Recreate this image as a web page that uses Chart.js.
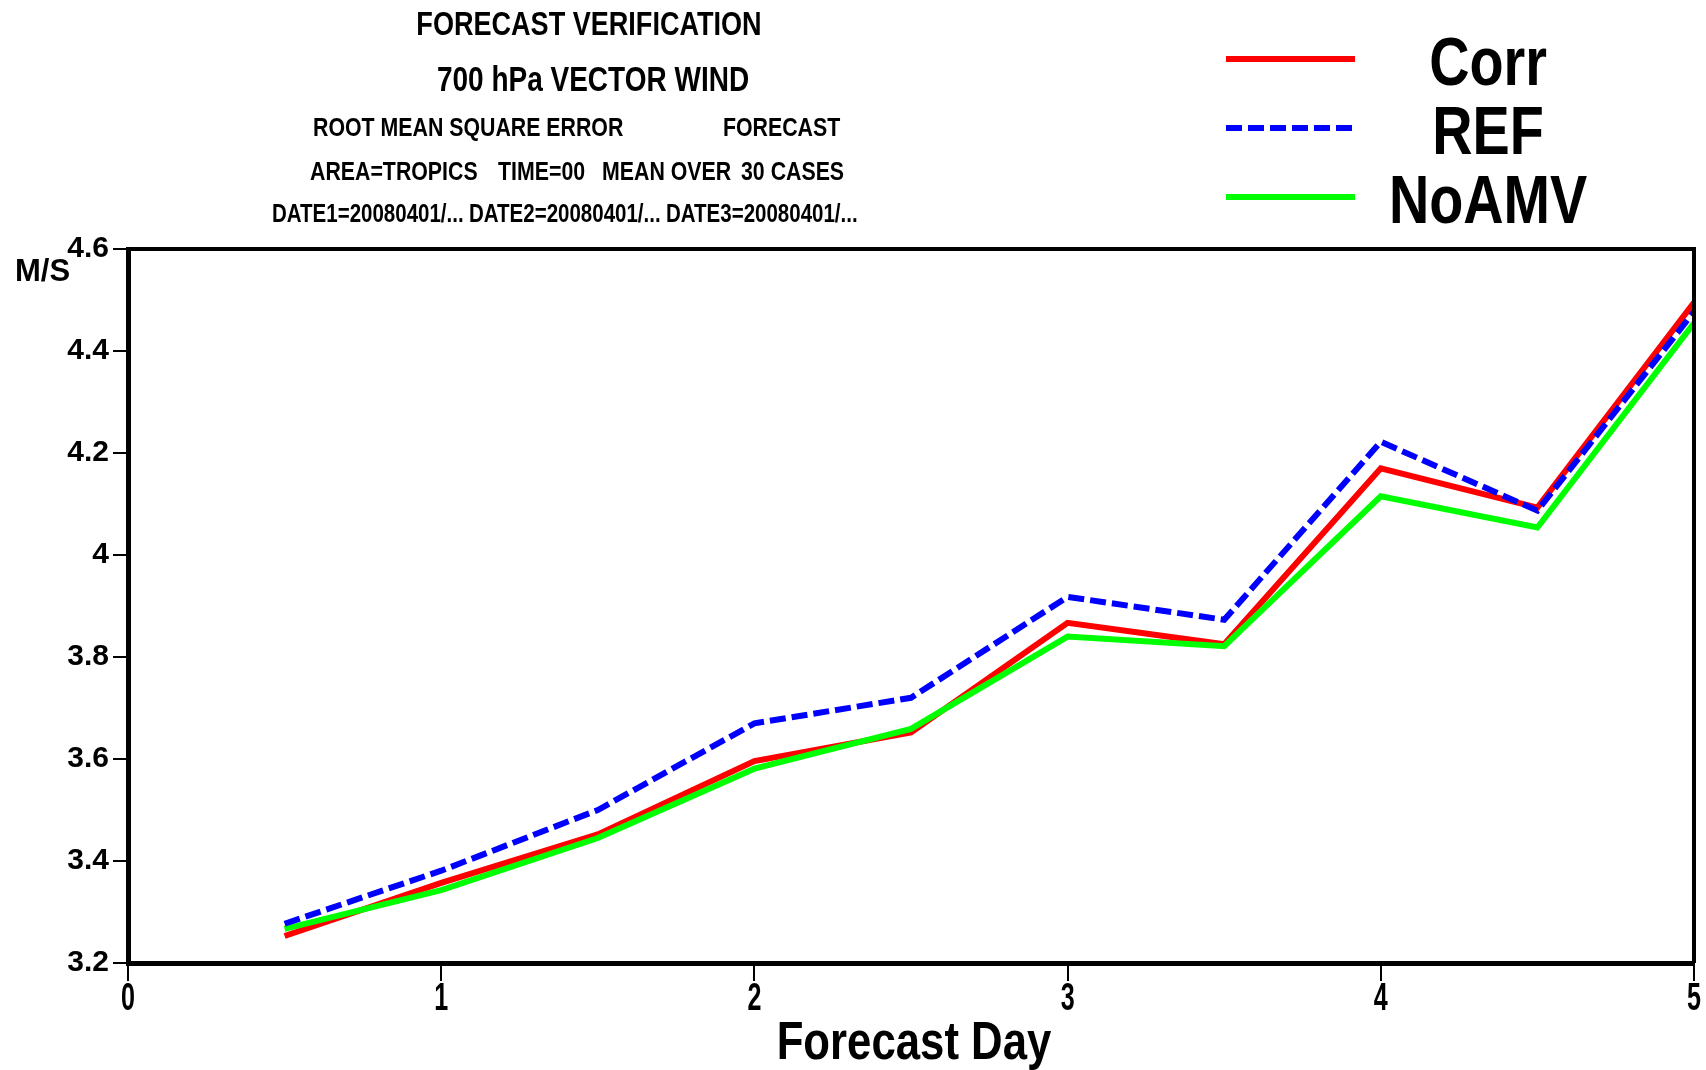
<!DOCTYPE html>
<html>
<head>
<meta charset="utf-8">
<script src="https://cdn.jsdelivr.net/npm/chart.js@4.4.0/dist/chart.umd.min.js"></script>
<style>
  html, body { margin: 0; padding: 0; background: #fff; }
  #wrap { width: 1706px; height: 1070px; }
</style>
</head>
<body>
<div id="wrap"><canvas id="rmseChart" width="1706" height="1070"></canvas></div>
<script>
// data (forecast day vs RMSE, m/s)
const days = [0.5, 1, 1.5, 2, 2.5, 3, 3.5, 4, 4.5, 5];
const corr = [3.253, 3.357, 3.452, 3.596, 3.652, 3.867, 3.825, 4.170, 4.093, 4.495];
const ref = [3.277, 3.381, 3.500, 3.670, 3.720, 3.918, 3.873, 4.222, 4.087, 4.477];
const noamv = [3.267, 3.343, 3.445, 3.581, 3.659, 3.840, 3.821, 4.115, 4.054, 4.455];
const xTicks = [0, 1, 2, 3, 4, 5];
const yTicks = [3.2, 3.4, 3.6, 3.8, 4.0, 4.2, 4.4, 4.6];
const yTickLabels = ["3.2", "3.4", "3.6", "3.8", "4", "4.2", "4.4", "4.6"];

const SANS = "'Liberation Sans', Arial, sans-serif";

function pts(vals) {
    return days.map((d, i) => ({ x: d, y: vals[i] }));
}

// squeezed bold text (the plot uses a narrow font)
function narrowText(c, txt, x, y, size, sx, align) {
    c.save();
    c.translate(x, y);
    c.scale(sx, 1);
    c.font = "bold " + size + "px " + SANS;
    c.textAlign = align || "left";
    c.fillText(txt, 0, 0);
    c.restore();
}

// header text + legend + frame + x labels, drawn by hand
const decorPlugin = {
    id: "decor",
    afterDraw(chart) {
        const c = chart.ctx;
        const a = chart.chartArea;
        const xs = chart.scales.x;
        c.save();
        c.fillStyle = "#000";
        c.textBaseline = "middle";

        // title block
        narrowText(c, "FORECAST VERIFICATION", 589, 26, 33, 0.82, "center");
        narrowText(c, "700 hPa VECTOR WIND", 593, 81, 35, 0.8, "center");
        narrowText(c, "ROOT MEAN SQUARE ERROR", 313, 129, 26, 0.82);
        narrowText(c, "FORECAST", 723, 129, 26, 0.82);
        narrowText(c, "AREA=TROPICS", 310, 173, 26, 0.82);
        narrowText(c, "TIME=00", 498, 173, 26, 0.82);
        narrowText(c, "MEAN OVER", 602, 173, 26, 0.82);
        narrowText(c, "30 CASES", 741, 173, 26, 0.82);
        narrowText(c, "DATE1=20080401/...", 272, 215, 25, 0.82);
        narrowText(c, "DATE2=20080401/...", 469, 215, 25, 0.82);
        narrowText(c, "DATE3=20080401/...", 666, 215, 25, 0.82);

        // y unit
        c.font = "bold 31px " + SANS;
        c.textAlign = "left";
        c.fillText("M/S", 15, 272);

        // x tick labels and axis title
        xTicks.forEach(v => {
            narrowText(c, String(v), xs.getPixelForValue(v), 1000, 38, 0.66, "center");
        });
        narrowText(c, "Forecast Day", (a.left + a.right) / 2 + 3, 1044, 54, 0.81, "center");

        // legend
        const rows = [59, 128, 197];
        chart.data.datasets.forEach((ds, i) => {
            const y = rows[i];
            c.strokeStyle = ds.borderColor;
            c.lineWidth = 6;
            c.setLineDash(ds.borderDash || []);
            c.beginPath();
            c.moveTo(1226, y);
            c.lineTo(1355, y);
            c.stroke();
            c.setLineDash([]);
            narrowText(c, ds.label, 1488, y + 7, 68, 0.82, "center");
        });

        // frame top / right
        c.strokeStyle = "#000";
        c.lineWidth = 4;
        c.beginPath();
        c.moveTo(a.left, a.top);
        c.lineTo(a.right, a.top);
        c.lineTo(a.right, a.bottom);
        c.stroke();
        c.restore();
    }
};

const ctx = document.getElementById("rmseChart").getContext("2d");

const rmseChart = new Chart(ctx, {
    type: "line",
    data: {
        datasets: [
            { label: "Corr", data: pts(corr), borderColor: "#ff0000", borderWidth: 6, order: 3 },
            { label: "REF", data: pts(ref), borderColor: "#0000ff", borderWidth: 6, borderDash: [16, 6], order: 1 },
            { label: "NoAMV", data: pts(noamv), borderColor: "#00ff00", borderWidth: 6, order: 2 }
        ]
    },
    options: {
        responsive: false,
        animation: false,
        events: [],
        elements: {
            point: { radius: 0 },
            line: { tension: 0, borderCapStyle: "butt", borderJoinStyle: "miter" }
        },
        layout: {
            padding: { top: 249, right: 12, left: 0, bottom: 0 }
        },
        plugins: {
            legend: { display: false },
            title: { display: false },
            tooltip: { enabled: false }
        },
        scales: {
            x: {
                type: "linear",
                min: 0,
                max: 5,
                afterFit: s => { s.height = 107; },
                afterBuildTicks: s => { s.ticks = xTicks.map(v => ({ value: v })); },
                grid: { drawOnChartArea: false, color: "#000", lineWidth: 2, tickLength: 18 },
                border: { color: "#000", width: 5 },
                ticks: { display: false }
            },
            y: {
                min: 3.2,
                max: 4.6,
                afterFit: s => { s.width = 128; },
                afterBuildTicks: s => { s.ticks = yTicks.map(v => ({ value: v })); },
                grid: { drawOnChartArea: false, color: "#000", lineWidth: 2, tickLength: 15 },
                border: { color: "#000", width: 5 },
                ticks: {
                    color: "#000",
                    padding: 4,
                    font: { family: SANS, size: 30, weight: "bold" },
                    callback: (v) => yTickLabels[yTicks.findIndex(t => Math.abs(t - v) < 1e-6)]
                }
            }
        }
    },
    plugins: [decorPlugin]
});
</script>
</body>
</html>
